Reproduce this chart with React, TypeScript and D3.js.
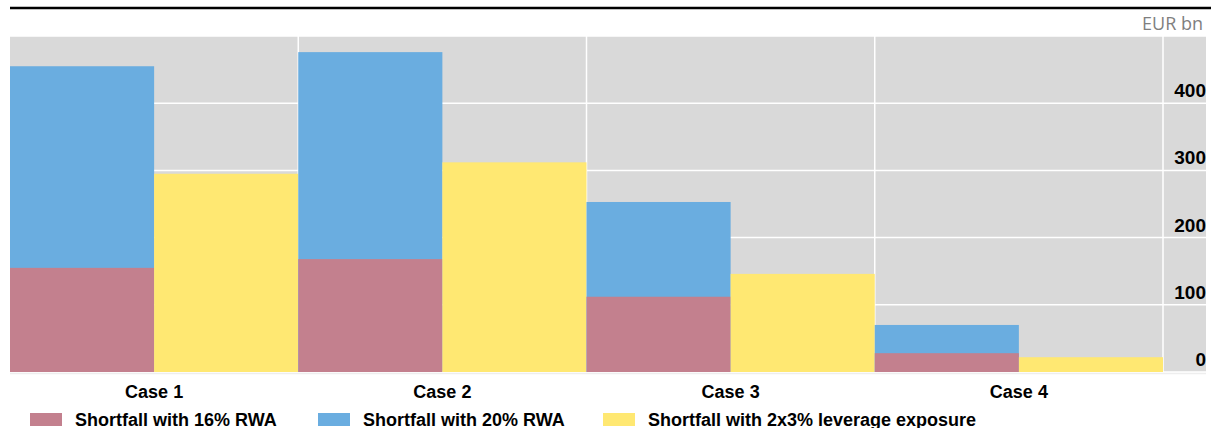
import React from "react";
import * as d3 from "d3";

const categories = ["Case 1", "Case 2", "Case 3", "Case 4"];
const rwa16 = [155, 168, 112, 28];
const rwa20 = [455, 476, 253, 70];
const leverage = [295, 312, 146, 22];
const yTicks = [0, 100, 200, 300, 400];
const legendItems = [
  { label: "Shortfall with 16% RWA", color: "#C3808E" },
  { label: "Shortfall with 20% RWA", color: "#6AADE0" },
  { label: "Shortfall with 2x3% leverage exposure", color: "#FFE872" },
];

const W = 1211;
const H = 428;
const left = 10;
const plotRight = 1163;
const bgRight = 1206;
const top = 36;
const bottom = 372;

export default function App() {
  const x = d3.scaleBand<string>().domain(categories).range([left, plotRight]).padding(0);
  const y = d3.scaleLinear().domain([0, 500]).range([bottom, top]);
  const bw = x.bandwidth() / 2;
  const font = "'Liberation Sans', Arial, sans-serif";
  const legendX = [30, 318, 603];

  return (
    <svg width={W} height={H} style={{ position: "absolute", left: 0, top: 0 }} fontFamily={font}>
      <rect x={0} y={0} width={W} height={H} fill="#fff" />
      <line x1={10} x2={W} y1={8} y2={8} stroke="#000" strokeWidth={2.5} />
      <text x={1203} y={30} textAnchor="end" fontSize={18} fill="#7F7F7F" fontFamily="'Open Sans', sans-serif">EUR bn</text>
      <rect x={left} y={top} width={bgRight - left} height={bottom - top} fill="#D9D9D9" />
      {[0, 100, 200, 300, 400, 500].map((t) => (
        <line key={t} x1={left} x2={bgRight} y1={y(t)} y2={y(t)} stroke="#fff" strokeWidth={1.5} />
      ))}
      {categories.map((c, i) => {
        const xx = i < 3 ? (x(categories[i + 1]) as number) : plotRight;
        return <line key={c} x1={xx} x2={xx} y1={top} y2={bottom} stroke="#fff" strokeWidth={1.5} />;
      })}
      {categories.map((c, i) => {
        const x0 = x(c) as number;
        return (
          <g key={c}>
            <rect x={x0} y={y(rwa20[i])} width={bw} height={y(0) - y(rwa20[i])} fill="#6AADE0" />
            <rect x={x0} y={y(rwa16[i])} width={bw} height={y(0) - y(rwa16[i])} fill="#C3808E" />
            <rect x={x0 + bw} y={y(leverage[i])} width={bw} height={y(0) - y(leverage[i])} fill="#FFE872" />
            <text x={x0 + bw} y={398} textAnchor="middle" fontSize={18} fontWeight="bold" fill="#000">{c}</text>
          </g>
        );
      })}
      <line x1={left} x2={bgRight} y1={bottom + 1.5} y2={bottom + 1.5} stroke="#eee" strokeWidth={1.5} />
      {yTicks.map((t) => (
        <text key={t} x={1206} y={y(t) - 6} textAnchor="end" fontSize={19} fontWeight="bold" fill="#000">{t}</text>
      ))}
      {legendItems.map((it, i) => (
        <g key={it.label}>
          <rect x={legendX[i]} y={413} width={32} height={13} fill={it.color} />
          <text x={legendX[i] + 45} y={426} fontSize={18} fontWeight="bold" fill="#000">{it.label}</text>
        </g>
      ))}
    </svg>
  );
}
